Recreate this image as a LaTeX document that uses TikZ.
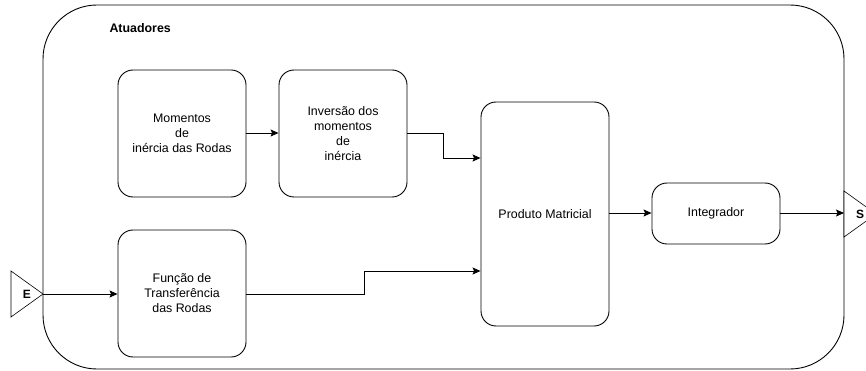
\documentclass[tikz,border=0pt]{standalone}
\usepackage{fontspec}
\setmainfont{Liberation Sans}
\usetikzlibrary{arrows.meta}
\begin{document}
\begin{tikzpicture}[x=1pt,y=-1pt,
  blk/.style={draw, line width=0.9pt, rounded corners=15pt, align=center, font=\fontsize{12.4}{15}\selectfont},
  conn/.style={line width=0.9pt, -{Stealth[length=8pt,width=7pt,inset=1.5pt]}},
  port/.style={draw, line width=0.6pt, fill=white}]
\useasboundingbox (0,0) rectangle (866,371);
% container
\draw[line width=0.9pt, rounded corners=54pt] (43,5) rectangle (844,369);
\node[font=\bfseries\fontsize{12.4}{15}\selectfont, anchor=west] (title) at (106,28) {Atuadores};
% blocks
\node[blk, minimum width=128pt, minimum height=127pt] (mom) at (182,133.5) {Momentos\\de\\inércia das Rodas};
\node[blk, minimum width=128pt, minimum height=127pt] (inv) at (343,133.5) {Inversão dos\\momentos\\de\\inércia};
\node[blk, minimum width=128pt, minimum height=127pt] (fun) at (182,293.5) {Função de\\Transferência\\das Rodas};
\node[blk, minimum width=128pt, minimum height=224pt] (prod) at (545,214) {Produto Matricial};
\node[blk, minimum width=128pt, minimum height=61pt] (int) at (716,213.5) {Integrador};
% ports
\draw[port] (11,271) -- (43,294) -- (11,317) -- cycle;
\node[font=\bfseries\fontsize{12}{14}\selectfont] (E) at (27,294) {E};
\draw[port] (844,191) -- (876,214) -- (844,237) -- cycle;
\node[font=\bfseries\fontsize{12}{14}\selectfont] (S) at (860,214) {S};
\coordinate (ein) at (43,294);
\coordinate (sout) at (844,213);
% connectors
\draw[conn] (ein) -- (fun.west |- ein);
\draw[conn] (mom.east |- 0,133) -- (inv.west |- 0,133);
\draw[conn] (inv.east |- 0,133) -| (443,158) -- (prod.west |- 0,158);
\draw[conn] (fun.east |- 0,294) -| (364,271) -- (prod.west |- 0,271);
\draw[conn] (prod.east |- 0,213) -- (int.west |- 0,213);
\draw[conn] (int.east |- 0,213) -- (sout);
\end{tikzpicture}
\end{document}
